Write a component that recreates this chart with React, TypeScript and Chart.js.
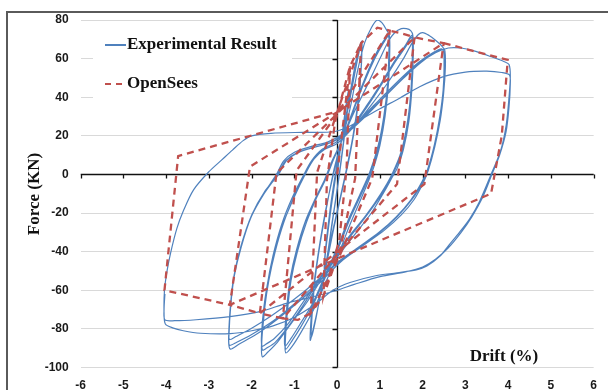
import React, { useEffect, useRef } from 'react';
import { Chart, registerables } from 'chart.js';

Chart.register(...registerables);

type Pt = [number, number];

// ---- axis ticks ----
const driftTicks = [-6, -5, -4, -3, -2, -1, 0, 1, 2, 3, 4, 5, 6];
const forceTicks = [-100, -80, -60, -40, -20, 0, 20, 40, 60, 80];

// ---- Experimental Result (drift %, force kN) ----
const expCycle025: Pt[] = [
  [0, 0], [0.08, 14], [0.17, 30], [0.26, 43], [0.25, 36], [0.16, 18], [0.04, -2], [-0.08, -20], [-0.2, -38], [-0.3, -50],
  [-0.28, -42], [-0.17, -22], [-0.04, -2], [0.08, 15], [0.18, 31], [0.27, 44], [0.24, 34], [0.13, 14], [0.01, -6],
  [-0.12, -25], [-0.23, -42], [-0.3, -49], [-0.27, -38], [-0.14, -14], [0, 6],
];
const expCycle05: Pt[] = [
  [0.14, 22], [0.3, 42], [0.45, 60], [0.55, 68], [0.58, 69], [0.57, 60], [0.52, 42], [0.41, 24], [0.26, 6], [0.1, -10],
  [-0.08, -28], [-0.28, -50], [-0.44, -68], [-0.56, -80], [-0.63, -86], [-0.62, -78], [-0.56, -60], [-0.45, -42],
  [-0.3, -22], [-0.13, -4], [0.04, 12], [0.2, 28], [0.35, 45], [0.48, 60], [0.56, 67], [0.57, 58], [0.5, 40], [0.37, 20],
  [0.2, 1], [0.02, -17], [-0.18, -37], [-0.36, -58], [-0.5, -75], [-0.6, -84], [-0.59, -74], [-0.52, -55], [-0.4, -36],
  [-0.24, -16], [-0.07, 3], [0.1, 17],
];
const expCycle12: Pt[] = [
  [0.3, 34], [0.48, 54], [0.64, 68], [0.8, 76], [0.94, 80], [1.05, 78.5], [1.15, 75], [1.22, 72], [1.23, 64], [1.2, 47],
  [1.12, 30], [1.0, 15], [0.86, 4], [0.74, -3], [0.55, -13], [0.3, -26], [0.05, -40], [-0.25, -55], [-0.55, -70],
  [-0.85, -82], [-1.05, -89], [-1.2, -92.5], [-1.22, -87], [-1.18, -72], [-1.1, -56], [-0.95, -40], [-0.75, -25],
  [-0.5, -12], [-0.3, -3], [-0.1, 7], [0.1, 17], [0.35, 32], [0.6, 47], [0.85, 60], [1.05, 68], [1.2, 72], [1.22, 65],
  [1.19, 48], [1.1, 30], [0.98, 15], [0.78, 1], [0.55, -11], [0.3, -23], [0.05, -37], [-0.25, -52], [-0.55, -67],
  [-0.85, -79], [-1.05, -86], [-1.2, -90.5], [-1.21, -85], [-1.16, -70], [-1.08, -55], [-0.93, -40], [-0.72, -25],
  [-0.48, -12], [-0.28, -3], [-0.08, 8], [0.12, 18], [0.38, 33], [0.62, 47], [0.88, 60], [1.08, 68], [1.2, 71.5],
  [1.21, 64], [1.18, 47], [1.09, 30], [0.96, 15], [0.76, 1], [0.52, -11], [0.27, -23], [0.02, -37], [-0.28, -52],
  [-0.58, -67], [-0.88, -78], [-1.08, -85], [-1.22, -89], [-1.23, -84], [-1.18, -69], [-1.1, -54], [-0.95, -39],
  [-0.74, -24], [-0.5, -12], [-0.3, -3], [-0.1, 8], [0.1, 17],
];
const expCycle175: Pt[] = [
  [0.35, 30], [0.7, 46], [1.0, 60], [1.2, 69], [1.35, 73.5], [1.5, 75.5], [1.62, 75.5], [1.72, 74.5], [1.77, 72],
  [1.78, 62], [1.75, 45], [1.68, 28], [1.55, 13], [1.4, 3], [1.3, -1], [1.1, -9], [0.8, -20], [0.45, -30], [0.1, -40],
  [-0.3, -52], [-0.7, -66], [-1.1, -78], [-1.4, -87], [-1.62, -92], [-1.75, -94.5], [-1.77, -88], [-1.72, -75],
  [-1.64, -58], [-1.5, -42], [-1.3, -26], [-1.05, -12], [-0.8, -1], [-0.6, 7], [-0.35, 13], [0, 17], [0.35, 25],
  [0.7, 36], [1.05, 48], [1.35, 59], [1.6, 67], [1.75, 72], [1.77, 64], [1.74, 46], [1.66, 28], [1.52, 12], [1.3, 0],
  [1.05, -10], [0.7, -21], [0.35, -31], [0, -41], [-0.4, -54], [-0.8, -68], [-1.15, -79], [-1.45, -87], [-1.65, -90],
  [-1.75, -91], [-1.76, -85], [-1.7, -70], [-1.6, -55], [-1.45, -40], [-1.25, -25], [-1.0, -11], [-0.76, 0],
  [-0.55, 8], [-0.3, 13], [0, 16], [0.35, 24], [0.7, 35], [1.05, 47], [1.35, 58], [1.6, 66], [1.74, 71], [1.76, 63],
  [1.73, 45], [1.65, 28], [1.5, 12], [1.28, 0], [1.02, -10], [0.68, -21], [0.32, -31], [-0.02, -41], [-0.42, -54],
  [-0.82, -67], [-1.17, -78], [-1.47, -85], [-1.67, -88], [-1.76, -89], [-1.77, -83], [-1.71, -68], [-1.6, -53],
  [-1.45, -38], [-1.24, -24], [-0.99, -11], [-0.75, 0], [-0.54, 8], [-0.29, 13], [0, 16],
];
const expCycle25: Pt[] = [
  [0.4, 25], [0.8, 36], [1.2, 48], [1.55, 60], [1.75, 68], [1.9, 72.5], [2.0, 73.5], [2.15, 72], [2.3, 69.5],
  [2.45, 66.5], [2.52, 64], [2.53, 55], [2.49, 42], [2.41, 28], [2.28, 14], [2.13, 2], [2.0, -5], [1.8, -13],
  [1.5, -21], [1.1, -29], [0.6, -37], [0.1, -45], [-0.4, -56], [-0.9, -66], [-1.4, -75], [-1.9, -83], [-2.3, -88],
  [-2.5, -90.5], [-2.54, -86], [-2.51, -72], [-2.44, -56], [-2.28, -40], [-2.05, -24], [-1.75, -11], [-1.42, 0],
  [-1.25, 7], [-1.0, 11.5], [-0.6, 14.5], [-0.2, 17], [0.2, 22], [0.6, 30], [1.0, 39], [1.5, 50], [1.9, 58],
  [2.2, 62.5], [2.45, 65], [2.52, 60], [2.5, 45], [2.42, 30], [2.3, 16], [2.14, 3], [2.0, -4], [1.75, -13],
  [1.4, -22], [1.0, -30], [0.5, -38], [0, -46], [-0.5, -57], [-1.0, -67], [-1.5, -76], [-2.0, -83], [-2.35, -87],
  [-2.52, -88.5], [-2.53, -83], [-2.49, -68], [-2.41, -53], [-2.25, -38], [-2.01, -22], [-1.71, -10], [-1.39, 0],
  [-1.21, 7], [-0.96, 11], [-0.56, 14], [-0.16, 16.5], [0.24, 22], [0.64, 30], [1.04, 39], [1.54, 50], [1.94, 58],
  [2.24, 62.5], [2.47, 64.5], [2.5, 58], [2.48, 44], [2.4, 30], [2.28, 16], [2.12, 3], [1.98, -4], [1.73, -13],
  [1.38, -22], [0.98, -30], [0.48, -38], [-0.02, -46], [-0.52, -56], [-1.02, -65], [-1.52, -73], [-2.02, -80],
  [-2.37, -84], [-2.52, -85.5], [-2.53, -80], [-2.49, -66], [-2.41, -52], [-2.25, -37], [-2.0, -21], [-1.7, -9],
  [-1.37, 0], [-1.19, 7], [-0.94, 11], [-0.54, 14], [-0.14, 16.5], [0.26, 22],
];
const expCycle40: Pt[] = [
  [0.66, 30], [1.06, 39], [1.56, 50], [1.96, 58], [2.3, 63], [2.6, 65.5], [2.9, 65.5], [3.2, 64], [3.6, 61],
  [3.9, 58.5], [4.02, 57], [4.05, 51], [4.02, 40], [3.95, 25], [3.82, 12], [3.6, 0], [3.33, -14], [3.1, -23],
  [2.86, -30], [2.6, -37], [2.4, -42.5], [2.1, -47.5], [1.85, -49.5], [1.4, -51], [0.9, -52.5], [0.3, -56], [-0.1, -60],
  [-0.5, -67], [-1.0, -74], [-1.5, -78.5], [-2.0, -81], [-2.5, -82.5], [-3.2, -82.3], [-3.6, -81], [-3.85, -79.5],
  [-4.02, -77.5], [-4.05, -72], [-4.04, -60], [-3.98, -50], [-3.9, -41], [-3.75, -28], [-3.6, -19], [-3.36, -8],
  [-3.0, 1.4], [-2.7, 7.5], [-2.45, 12.6], [-2.2, 17.5], [-2.0, 20], [-1.55, 21.3], [-0.8, 21.8], [-0.1, 22.1],
  [0.26, 24.7], [0.6, 29], [1.0, 34], [1.46, 39.5], [1.93, 45.4], [2.47, 50.5], [3.0, 53], [3.5, 53.5], [3.85, 52.8],
  [4.03, 51.5], [4.05, 47], [4.02, 35], [3.95, 22], [3.8, 10], [3.62, 0], [3.4, -12], [3.15, -22], [2.9, -30],
  [2.6, -38], [2.3, -44], [2.0, -48], [1.6, -50.5], [1.0, -53], [0.4, -57], [0, -60], [-0.5, -63], [-1.19, -66.8],
  [-1.81, -71.1], [-2.51, -73.7], [-3.3, -75.3], [-3.8, -75.8], [-4.03, -75.4], [-4.05, -70], [-4.03, -62],
];

// ---- OpenSees model (drift %, force kN) ----
const osStage03: Pt[] = [[0, 0], [0.3, 56], [0.22, 3], [0.05, -34], [-0.32, -63], [-0.24, -3], [-0.05, 27], [0.3, 56]];
const osStage056: Pt[] = [[0.56, 68], [0.42, -2], [0.08, -38], [-0.32, -63], [-0.62, -72], [-0.47, 1], [-0.05, 29], [0.56, 68]];
const osStage123: Pt[] = [[0.94, 76], [1.23, 74.5], [0.82, -2], [0.08, -41], [-0.62, -72], [-0.92, -75.4], [-1.27, -74.6], [-0.95, 2], [-0.04, 30], [1.23, 74.5]];
const osStage181: Pt[] = [[1.52, 73], [1.81, 71], [1.4, -5], [0.06, -40], [-1.27, -74.6], [-1.81, -72], [-1.42, 0.6], [-0.02, 31], [1.81, 71]];
const osStage249: Pt[] = [[2.49, 68], [2.04, -5], [0.06, -39], [-1.81, -72], [-2.51, -67.6], [-2.04, 4], [-0.02, 32], [2.49, 68]];
const osStage40: Pt[] = [[3.99, 59.3], [3.85, 20], [3.6, -10], [0.07, -43], [-2.51, -67.6], [-4.04, -60], [-3.72, 9.5], [-0.02, 32.5]];

const expPoints = [...expCycle025, ...expCycle05, ...expCycle12, ...expCycle175, ...expCycle25, ...expCycle40];
const osPoints = [...osStage03, ...osStage056, ...osStage123, ...osStage181, ...osStage249, ...osStage40];

const BLUE = '#4F81BD';
const RED = '#C0504D';
const SERIF = "'Liberation Serif', 'Times New Roman', serif";
const SANS = "'Liberation Sans', Arial, sans-serif";

const decorPlugin = {
  id: 'decor',
  beforeDatasetsDraw(chart: any) {
    const { ctx, chartArea, scales } = chart;
    const xs = scales.x;
    const ys = scales.y;
    ctx.save();
    // legend backdrop hides gridlines
    ctx.fillStyle = '#ffffff';
    ctx.fillRect(93, 25, 199, 85);
    // center axes
    const x0 = Math.round(xs.getPixelForValue(0)) + 0.5;
    const y0 = Math.round(ys.getPixelForValue(0)) + 0.5;
    ctx.strokeStyle = '#111';
    ctx.lineWidth = 1.3;
    ctx.beginPath();
    ctx.moveTo(x0, chartArea.top);
    ctx.lineTo(x0, chartArea.bottom);
    ctx.moveTo(chartArea.left, y0);
    ctx.lineTo(chartArea.right, y0);
    forceTicks.forEach((v) => {
      const py = Math.round(ys.getPixelForValue(v)) + 0.5;
      ctx.moveTo(x0 - 5, py);
      ctx.lineTo(x0, py);
    });
    driftTicks.forEach((v) => {
      const px = Math.round(xs.getPixelForValue(v)) + 0.5;
      ctx.moveTo(px, y0);
      ctx.lineTo(px, y0 + 4);
    });
    ctx.stroke();
    ctx.restore();
  },
  afterDraw(chart: any) {
    const { ctx } = chart;
    ctx.save();
    // outer frame
    ctx.strokeStyle = '#5a5a5a';
    ctx.lineWidth = 2;
    ctx.beginPath();
    ctx.moveTo(7, 390);
    ctx.lineTo(7, 12);
    ctx.lineTo(608, 12);
    ctx.stroke();
    // legend
    ctx.lineWidth = 2;
    ctx.strokeStyle = BLUE;
    ctx.beginPath();
    ctx.moveTo(105, 45);
    ctx.lineTo(126, 45);
    ctx.stroke();
    ctx.strokeStyle = RED;
    ctx.setLineDash([6, 5]);
    ctx.lineWidth = 2.2;
    ctx.beginPath();
    ctx.moveTo(105, 84);
    ctx.lineTo(126, 84);
    ctx.stroke();
    ctx.setLineDash([]);
    ctx.fillStyle = '#111';
    ctx.font = `bold 17px ${SERIF}`;
    ctx.textBaseline = 'middle';
    ctx.textAlign = 'left';
    ctx.fillText('Experimental Result', 127, 45);
    ctx.fillText('OpenSees', 127, 84);
    // axis titles
    ctx.textAlign = 'center';
    ctx.fillText('Drift (%)', 504, 357);
    ctx.translate(35, 194);
    ctx.rotate(-Math.PI / 2);
    ctx.fillText('Force (KN)', 0, 0);
    ctx.restore();
  },
};

export default function App() {
  const canvasRef = useRef<HTMLCanvasElement | null>(null);

  useEffect(() => {
    const canvas = canvasRef.current;
    if (!canvas) return;
    const chart = new Chart(canvas, {
      type: 'scatter',
      data: {
        datasets: [
          {
            label: 'OpenSees',
            data: osPoints.map(([x, y]) => ({ x, y })),
            showLine: true,
            borderColor: RED,
            borderWidth: 2.3,
            borderDash: [7, 5],
            pointRadius: 0,
            tension: 0,
            fill: false,
          },
          {
            label: 'Experimental Result',
            data: expPoints.map(([x, y]) => ({ x, y })),
            showLine: true,
            borderColor: BLUE,
            borderWidth: 1.2,
            pointRadius: 0,
            tension: 0.3,
            fill: false,
          },
        ],
      },
      options: {
        responsive: false,
        animation: false,
        events: [],
        layout: { padding: { left: 0, top: 20, right: 13.7, bottom: 0 } },
        plugins: { legend: { display: false }, tooltip: { enabled: false }, title: { display: false } },
        scales: {
          x: {
            type: 'linear',
            min: -6,
            max: 6,
            afterBuildTicks: (s: any) => { s.ticks = driftTicks.map((v) => ({ value: v })); },
            afterFit: (s: any) => { s.height = 22.6; },
            grid: { display: false, drawTicks: false },
            border: { display: false },
            ticks: { padding: 11, color: '#1a1a1a', font: { family: SANS, size: 12, weight: 'bold' } },
          },
          y: {
            type: 'linear',
            min: -100,
            max: 80,
            afterBuildTicks: (s: any) => { s.ticks = forceTicks.map((v) => ({ value: v })); },
            afterFit: (s: any) => { s.width = 80.7; },
            grid: { color: '#d9d9d9', lineWidth: 1, drawTicks: false },
            border: { display: false },
            ticks: { padding: 12, color: '#1a1a1a', font: { family: SANS, size: 12, weight: 'bold' } },
          },
        },
      } as any,
      plugins: [decorPlugin],
    });
    return () => chart.destroy();
  }, []);

  return (
    <div style={{ position: 'absolute', left: 0, top: 0, width: 608, height: 390, background: '#fff' }}>
      <canvas ref={canvasRef} width={608} height={390} style={{ display: 'block', width: 608, height: 390 }} />
    </div>
  );
}
